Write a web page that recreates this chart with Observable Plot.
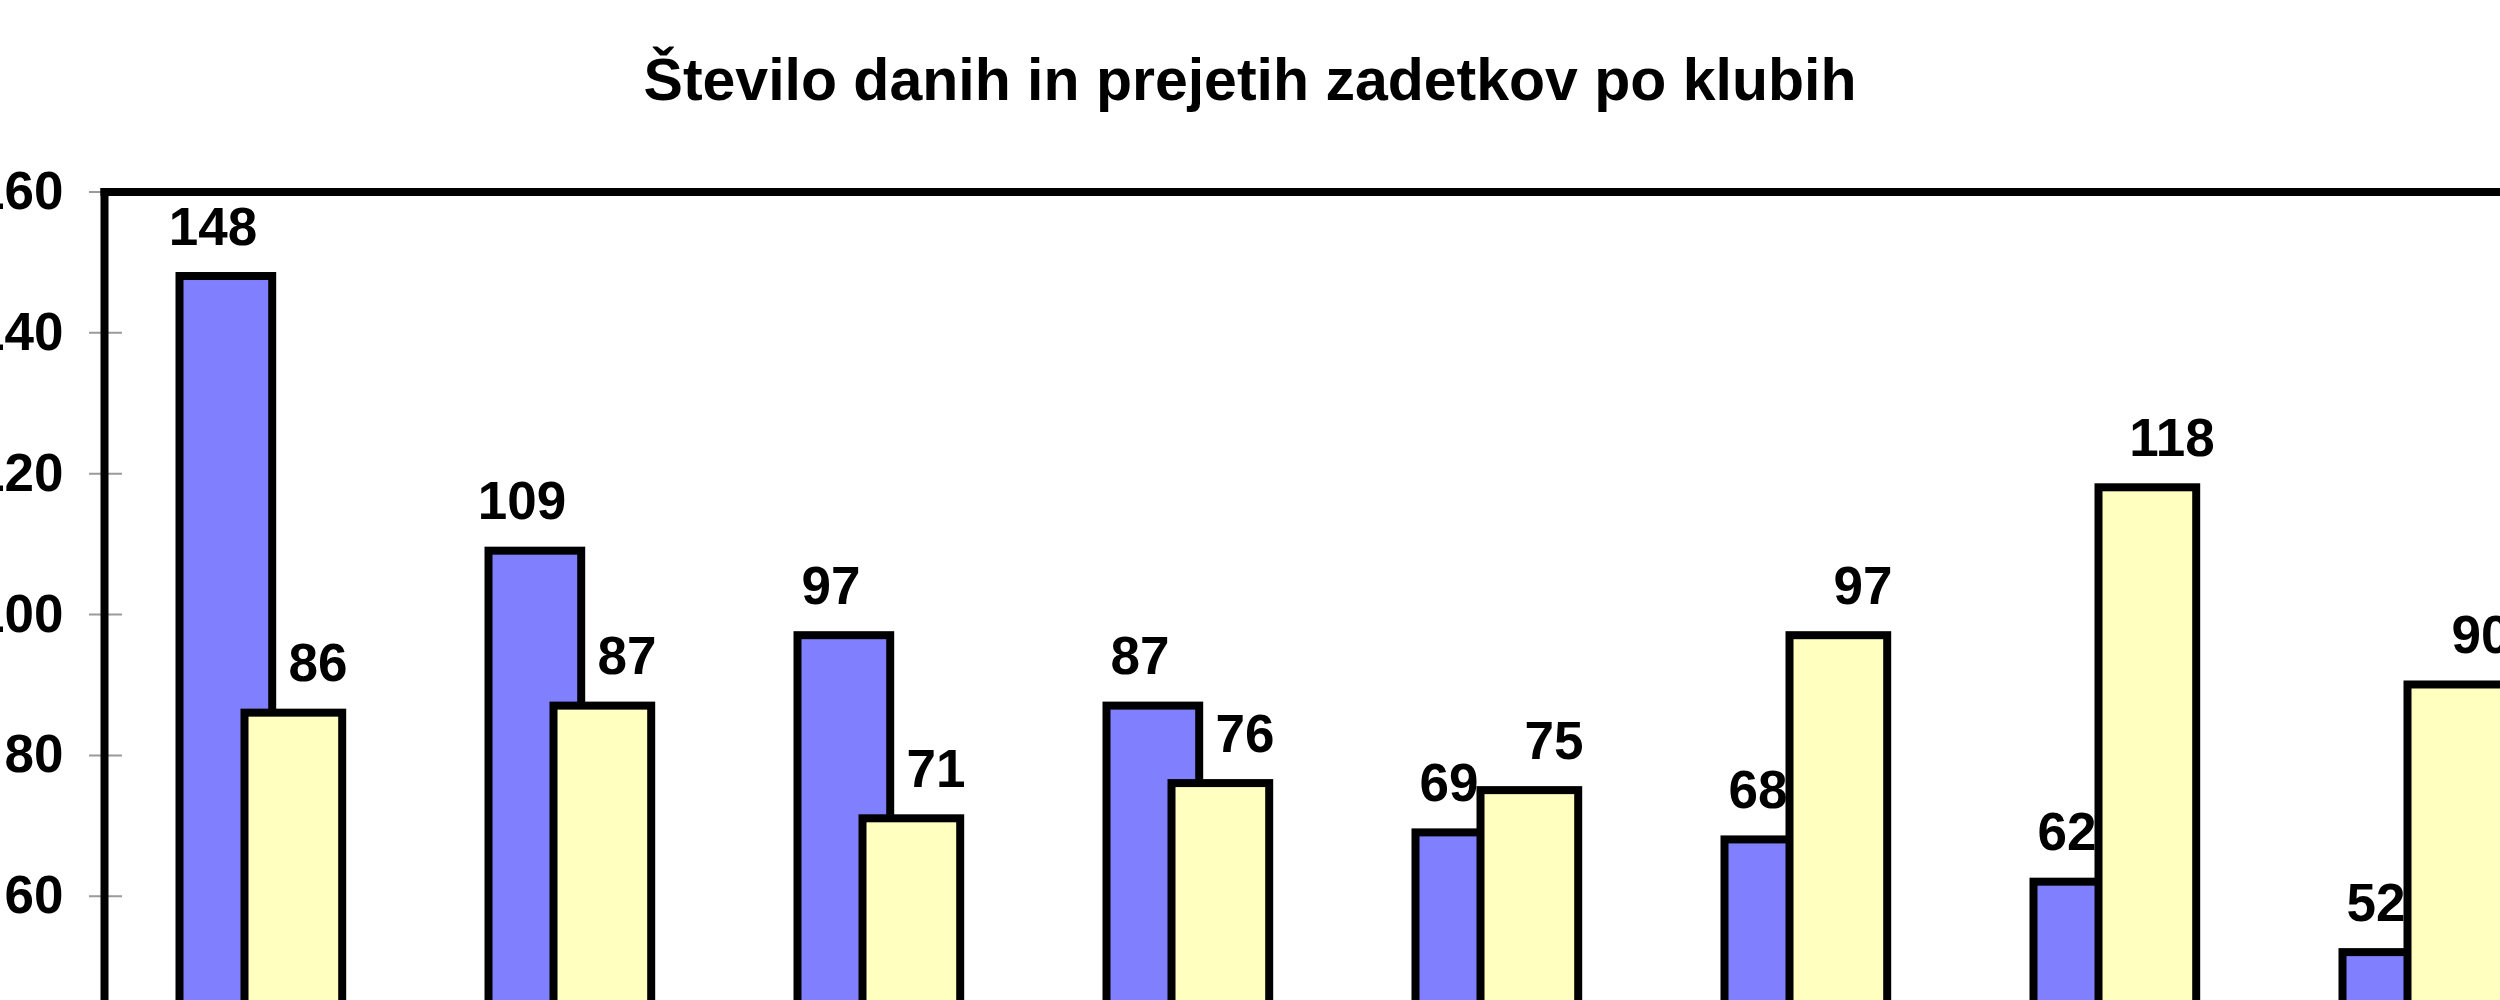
<!DOCTYPE html>
<html><head><meta charset="utf-8">
<script src="https://cdn.jsdelivr.net/npm/d3@7"></script>
<script src="https://cdn.jsdelivr.net/npm/@observablehq/plot@0.6"></script>
<style>
html,body{margin:0;padding:0;background:#fff;overflow:hidden;width:2500px;height:1000px;}
#title{height:150px;box-sizing:border-box;padding-top:51px;text-align:center;font-family:"Liberation Sans",Arial,sans-serif;font-weight:bold;font-size:59px;line-height:1;color:#000;white-space:nowrap;}
#chart svg{display:block;overflow:hidden;}
</style></head><body>
<div id="title">Število danih in prejetih zadetkov po klubih</div>
<div id="chart"></div>
<script>
// Data
const clubs = ["Klub 1","Klub 2","Klub 3","Klub 4","Klub 5","Klub 6","Klub 7","Klub 8"];
const dani = [148,109,97,87,69,68,62,52];      // scored goals (blue)
const prejeti = [86,87,71,76,75,97,118,90];    // conceded goals (yellow)
const yTicks = [60,80,100,120,140,160];

const rowsDani = clubs.map((c,i)=>({club:c, value:dani[i]}));
const rowsPrejeti = clubs.map((c,i)=>({club:c, value:prejeti[i]}));

const font = '"Liberation Sans", Arial, sans-serif';
const left = 104, step = 309.3;

const chart = Plot.plot({
  width: 2500, height: 850,
  marginTop: 41.5, marginBottom: 0, marginLeft: left, marginRight: 0,
  style: {fontFamily: font, background: "#fff", color: "#000"},
  x: {type: "band", domain: clubs, range: [left, left + step * clubs.length], padding: 0, axis: null},
  y: {domain: [45.2, 160], label: null},
  marks: [
    Plot.barY(rowsDani, {x: "club", y: "value", fill: "#8080ff", stroke: "#000", strokeWidth: 8, insetLeft: 74.5, insetRight: 141.8, clip: true}),
    Plot.barY(rowsPrejeti, {x: "club", y: "value", fill: "#ffffc0", stroke: "#000", strokeWidth: 8, insetLeft: 139.5, insetRight: 71.8, clip: true}),
    Plot.axisY({ticks: yTicks, tickSize: 33, dx: 18, text: null, label: null, stroke: "#9a9a9a", strokeWidth: 2}),
    Plot.axisY({ticks: yTicks, tickSize: 0, tickPadding: 41, label: null, fontSize: 53, fontWeight: "bold", fill: "#000"}),
    Plot.frame({anchor: "left", stroke: "#000", strokeWidth: 8}),
    Plot.frame({anchor: "top", stroke: "#000", strokeWidth: 8}),
    Plot.text(rowsDani, {x: "club", y: "value", text: "value", dx: -47, dy: -32, lineAnchor: "bottom", fontSize: 53, fontWeight: "bold", fill: "#000"}),
    Plot.text(rowsPrejeti, {x: "club", y: "value", text: "value", dx: 58, dy: -32, lineAnchor: "bottom", fontSize: 53, fontWeight: "bold", fill: "#000"})
  ]
});
document.getElementById("chart").appendChild(chart);
</script>
</body></html>
